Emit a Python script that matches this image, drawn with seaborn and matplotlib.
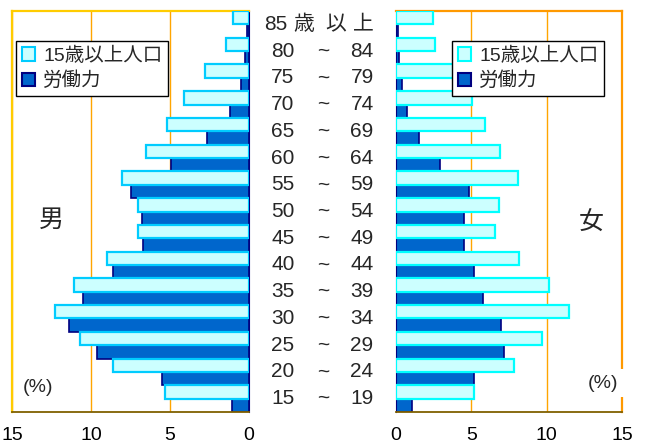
import matplotlib
matplotlib.use("Agg")
import matplotlib.pyplot as plt
import matplotlib.transforms as mtransforms
from matplotlib.patches import Patch
import pandas as pd
import seaborn as sns

# 年齢階級 (上から順)
age_lo = ['85', '80', '75', '70', '65', '60', '55', '50', '45', '40', '35', '30', '25', '20', '15']
age_hi = ['', '84', '79', '74', '69', '64', '59', '54', '49', '44', '39', '34', '29', '24', '19']
series = ['15歳以上人口', '労働力']

# 男 (%)
male_pop = [1.0, 1.45, 2.8, 4.1, 5.2, 6.55, 8.05, 7.05, 7.0, 9.0, 11.1, 12.3, 10.7, 8.6, 5.3]
male_lab = [0.13, 0.25, 0.5, 1.2, 2.65, 4.95, 7.5, 6.75, 6.7, 8.6, 10.5, 11.4, 9.65, 5.5, 1.05]
# 女 (%)
female_pop = [2.45, 2.6, 3.9, 5.05, 5.9, 6.9, 8.1, 6.85, 6.55, 8.15, 10.15, 11.5, 9.7, 7.8, 5.2]
female_lab = [0.15, 0.2, 0.4, 0.7, 1.5, 2.9, 4.85, 4.5, 4.5, 5.2, 5.8, 7.0, 7.2, 5.2, 1.05]

xticks = [0, 5, 10, 15]

sns.set_theme(style="white")
plt.rcParams['font.family'] = ['Liberation Sans', 'Noto Sans CJK JP', 'DejaVu Sans']


def make_df(pop, lab):
    return pd.DataFrame({
        'age': age_lo * 2,
        'series': [series[0]] * len(pop) + [series[1]] * len(lab),
        'value': pop + lab,
    })


W, H = 648, 446
fig = plt.figure(figsize=(W / 100, H / 100), dpi=100)
ax_m = fig.add_axes([12 / W, 1 - 412 / H, 237 / W, 401 / H])
ax_f = fig.add_axes([396 / W, 1 - 412 / H, 226 / W, 401 / H])

pal = {series[0]: '#CCFFFF', series[1]: '#0066CC'}


def draw(ax, df, light_edge, frame_color, side):
    sns.barplot(data=df, x='value', y='age', hue='series', order=age_lo,
                hue_order=series, palette=pal, width=1.0, dodge=True,
                saturation=1, errorbar=None, legend=False, ax=ax)
    for p in ax.containers[0]:
        p.set_edgecolor(light_edge)
        p.set_linewidth(1.6)
        p.set_zorder(3)
    for p in ax.containers[1]:
        p.set_edgecolor('#000080')
        p.set_linewidth(1.2)
        p.set_zorder(2)
    ax.set_xticks(xticks)
    ax.set_xticklabels([str(t) for t in xticks])
    ax.set_yticklabels([])
    ax.set_xlabel('')
    ax.set_ylabel('')
    ax.tick_params(length=0, labelsize=14, pad=11, colors='black')
    ax.set_axisbelow(True)
    ax.xaxis.grid(True, color='#FFA500', lw=1)
    ax.yaxis.grid(False)
    ax.spines['top'].set_color(frame_color)
    ax.spines['top'].set_linewidth(1.6)
    ax.spines[side].set_color(frame_color)
    ax.spines[side].set_linewidth(1.6)
    other = 'right' if side == 'left' else 'left'
    ax.spines[other].set_color('#000080')
    ax.spines[other].set_linewidth(0.8)
    ax.spines['bottom'].set_color('#7F6000')
    ax.spines['bottom'].set_linewidth(1.3)


draw(ax_m, make_df(male_pop, male_lab), '#00CCFF', '#FFCC00', 'left')
ax_m.set_xlim(15, 0)
draw(ax_f, make_df(female_pop, female_lab), '#00FFFF', '#FF9900', 'right')
ax_f.set_xlim(0, 15)

# 中央の年齢ラベル
tr = mtransforms.blended_transform_factory(fig.transFigure, ax_m.transData)
fs = 15
for i, (lo, hi) in enumerate(zip(age_lo, age_hi)):
    if hi == '':
        for px, s in [(276, lo), (304, '歳'), (336, '以'), (363, '上')]:
            fig.text(px / W, i, s, transform=tr, ha='center', va='center', fontsize=fs)
    else:
        fig.text(283 / W, i, lo, transform=tr, ha='center', va='center', fontsize=fs)
        fig.text(323 / W, i, '~', transform=tr, ha='center', va='center', fontsize=fs)
        fig.text(362 / W, i, hi, transform=tr, ha='center', va='center', fontsize=fs)

fig.text(51 / W, 1 - 220 / H, '男', ha='center', va='center', fontsize=18)
fig.text(591 / W, 1 - 223 / H, '女', ha='center', va='center', fontsize=18)
fig.text(38 / W, 1 - 388 / H, '(%)', ha='center', va='center', fontsize=14)
fig.text(603 / W, 1 - 383 / H, '(%)', ha='center', va='center', fontsize=14,
         bbox=dict(facecolor='white', edgecolor='none', pad=4), zorder=10)

# 凡例
for ax, edge, x0 in [(ax_m, '#00CCFF', 16), (ax_f, '#00FFFF', 452)]:
    handles = [Patch(facecolor='#CCFFFF', edgecolor=edge, linewidth=1.5),
               Patch(facecolor='#0066CC', edgecolor='#000080', linewidth=1.5)]
    leg = ax.legend(handles, series, loc='upper left',
                    bbox_to_anchor=(x0 / W, 1 - 41 / H), bbox_transform=fig.transFigure,
                    fontsize=14, frameon=True, fancybox=False, shadow=False,
                    handlelength=0.7, handleheight=0.7, handletextpad=0.4,
                    borderpad=0.3, labelspacing=0.35, borderaxespad=0)
    leg.get_frame().set_edgecolor('black')
    leg.get_frame().set_linewidth(1.0)
    leg.get_frame().set_alpha(1)
    leg.set_zorder(10)

fig.savefig('out.png', dpi=100)
